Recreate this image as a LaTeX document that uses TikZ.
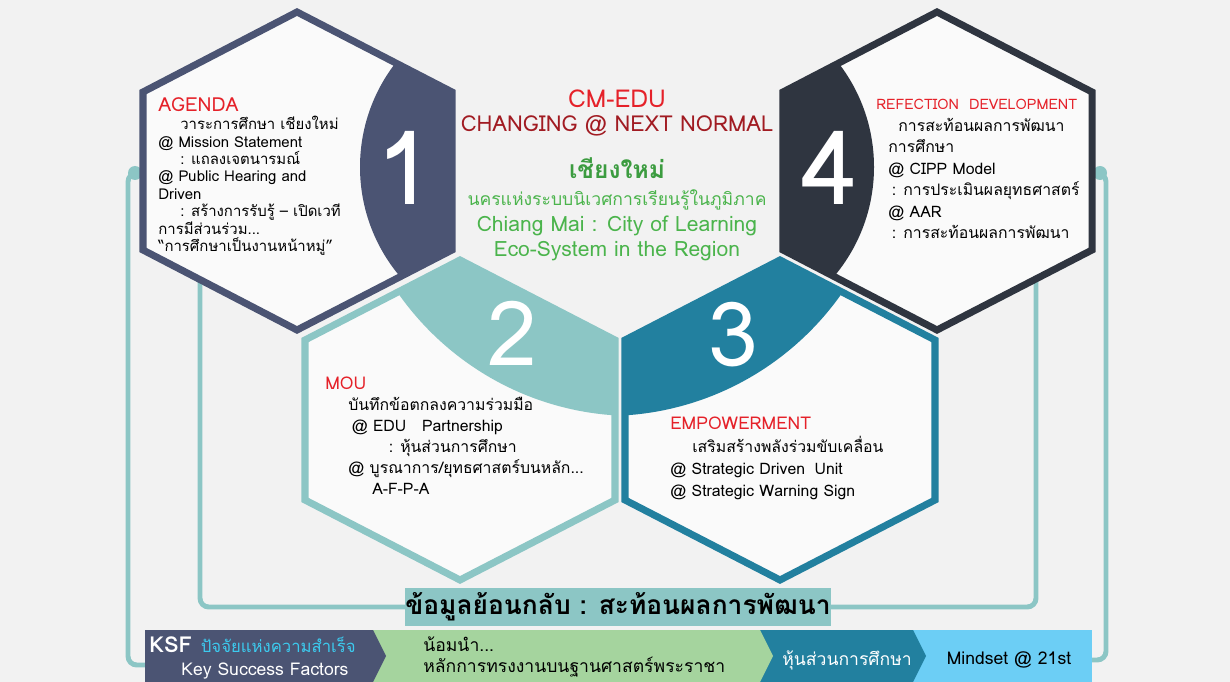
\documentclass[tikz,border=0pt]{standalone}
\usepackage{fontspec}
\setmainfont{Loma}[Script=Thai]
\usepackage{tikz}
\usetikzlibrary{positioning}
\definecolor{HXNavy}{HTML}{4B5473}
\definecolor{HXDark}{HTML}{2F3540}
\definecolor{HXTeal}{HTML}{8CC6C5}
\definecolor{HXBlue}{HTML}{22809F}
\definecolor{HXSky}{HTML}{6CCEF5}
\definecolor{HXGreen}{HTML}{A5D49E}
\definecolor{HXRed}{HTML}{E52129}
\definecolor{HXWine}{HTML}{A11B22}
\definecolor{HXLeaf}{HTML}{3C9C40}
\definecolor{HXLime}{HTML}{4BB44C}
\definecolor{HXCyan}{HTML}{3CCBEF}
\definecolor{HXBack}{HTML}{F2F2F2}
\definecolor{HXInner}{HTML}{FAFAFA}
\tikzset{
  hexline/.style={line width=4pt,line join=miter},
  hextitle/.style={anchor=base west,inner sep=0,text=HXRed,font=\fontsize{11}{13}\selectfont},
  hexbody/.style={anchor=north west,inner sep=0,align=left,font=\fontsize{8.5}{9.9}\selectfont},
  digit/.style={inner sep=0,text=white,font=\fontsize{58}{58}\selectfont},
  loopline/.style={HXTeal,line width=2.8pt,rounded corners=5pt},
  bartext/.style={inner sep=0,font=\fontsize{10}{11.5}\selectfont}
}
\begin{document}
\begin{tikzpicture}[x=0.02cm,y=-0.02cm]
\path[use as bounding box] (0,0) rectangle (1230,682);
\fill[HXBack] (0,0) rectangle (1230,682);
% feedback loop
\coordinate (dotL) at (135,173);
\coordinate (dotR) at (1100,173);
\coordinate (barL) at (146,665);
\coordinate (barR) at (1091,660);
\coordinate (footA) at (200,270);
\coordinate (footD) at (1036,270);
\node[fill=HXTeal,minimum width=8.32cm,minimum height=0.76cm,inner sep=0,
  font=\bfseries\fontsize{15}{16}\selectfont] (fb) at (618,607) {ข้อมูลย้อนกลับ : สะท้อนผลการพัฒนา};
\draw[loopline] (footA) |- (fb.west);
\draw[loopline] (footD) |- (fb.east);
\draw[loopline] (dotL) -- (128,173) |- (barL);
\draw[loopline] (dotR) -- (1106,173) |- (barR);
\fill[HXTeal] (dotL) circle (7);
\fill[HXTeal] (dotR) circle (7);
% bottom bar
\fill[HXSky] (145,630) rectangle (1092,682);
\fill[HXBlue] (145,630) -- (913,630) -- (926,656) -- (913,682) -- (145,682) -- cycle;
\fill[HXGreen] (145,630) -- (760,630) -- (773,656) -- (760,682) -- (145,682) -- cycle;
\fill[HXNavy] (145,630) -- (373,630) -- (386,656) -- (373,682) -- (145,682) -- cycle;
\node[bartext,anchor=west] (ksf) at (149,645) {\textcolor{white}{\bfseries\fontsize{12.5}{13}\selectfont KSF}\, \textcolor{HXCyan}{\fontsize{9.5}{10}\selectfont ปัจจัยแห่งความสำเร็จ}};
\node[bartext,text=white] (ksfen) at (265,671) {Key Success Factors};
\node[bartext,anchor=west,align=left] (noble) at (423,657) {น้อมนำ...\\หลักการทรงงานบนฐานศาสตร์พระราชา};
\node[bartext,text=white] (partner) at (847,660) {หุ้นส่วนการศึกษา};
\node[bartext] (mindset) at (1009,660) {Mindset @ 21st};
% hexagon 2
\fill[HXInner] (460,260) -- (615,340) -- (615,500) -- (460,580) -- (305,500) -- (305,340) -- cycle;
\begin{scope}
\clip (460,260) -- (615,340) -- (615,500) -- (460,580) -- (305,500) -- (305,340) -- cycle;
\fill[HXTeal] (634,128) circle (288);
\end{scope}
\draw[hexline,HXTeal] (460,260) -- (615,340) -- (615,500) -- (460,580) -- (305,500) -- (305,340) -- cycle;
\node[digit,font=\fontsize{51}{51}\selectfont] (two) at (512,333) {2};
% hexagon 3
\fill[HXInner] (780,260) -- (935,340) -- (935,500) -- (780,580) -- (625,500) -- (625,340) -- cycle;
\begin{scope}
\clip (780,260) -- (935,340) -- (935,500) -- (780,580) -- (625,500) -- (625,340) -- cycle;
\fill[HXBlue] (606,128) circle (288);
\end{scope}
\draw[hexline,HXBlue] (780,260) -- (935,340) -- (935,500) -- (780,580) -- (625,500) -- (625,340) -- cycle;
\node[digit,font=\fontsize{51}{51}\selectfont] (three) at (733,335) {3};
% hexagon 1
\fill[HXInner] (297,12) -- (452,92) -- (452,250) -- (297,330) -- (143,250) -- (143,92) -- cycle;
\begin{scope}
\clip (297,12) -- (452,92) -- (452,250) -- (297,330) -- (143,250) -- (143,92) -- cycle;
\fill[HXNavy] (530,167) circle (170);
\end{scope}
\draw[hexline,HXNavy] (297,12) -- (452,92) -- (452,250) -- (297,330) -- (143,250) -- (143,92) -- cycle;
\node[digit] (one) at (405,168) {1};
% hexagon 4
\fill[HXInner] (937,12) -- (1092,92) -- (1092,250) -- (937,330) -- (783,250) -- (783,92) -- cycle;
\begin{scope}
\clip (937,12) -- (1092,92) -- (1092,250) -- (937,330) -- (783,250) -- (783,92) -- cycle;
\fill[HXDark] (704,167) circle (170);
\end{scope}
\draw[hexline,HXDark] (937,12) -- (1092,92) -- (1092,250) -- (937,330) -- (783,250) -- (783,92) -- cycle;
\node[digit] (four) at (830,168) {4};
% texts of the hexagons
\node[hextitle] (agenda) at (158,112) {AGENDA};
\node[hexbody] (agendaTxt) at (158,116) {\hspace*{12.5pt}วาระการศึกษา เชียงใหม่\\
@ Mission Statement\\
\hspace*{12.5pt}: แถลงเจตนารมณ์\\
@ Public Hearing and\\
Driven\\
\hspace*{12.5pt}: สร้างการรับรู้ -- เปิดเวที\\
การมีส่วนร่วม...\\
“การศึกษาเป็นงานหน้าหมู่”};
\node[hextitle,font=\fontsize{8.2}{10}\selectfont] (refect) at (876,110) {REFECTION\hspace{0.7em}DEVELOPMENT};
\node[hexbody,font=\fontsize{9}{12.2}\selectfont] (refectTxt) at (888,118) {\hspace*{5.7pt}การสะท้อนผลการพัฒนา\\
การศึกษา\\
@ CIPP Model\\
\hspace*{2pt}: การประเมินผลยุทธศาสตร์\\
@ AAR\\
\hspace*{2pt}: การสะท้อนผลการพัฒนา};
\node[hextitle,font=\fontsize{10}{11}\selectfont] (mou) at (325,389) {MOU};
\node[hexbody,font=\fontsize{9}{12}\selectfont] (mouTxt) at (348,397) {บันทึกข้อตกลงความร่วมมือ\\
\hspace*{2pt}@ EDU\hspace{1em}Partnership\\
\hspace*{23pt}: หุ้นส่วนการศึกษา\\
@ บูรณาการ/ยุทธศาสตร์บนหลัก...\\
\hspace*{13.6pt}A-F-P-A};
\node[hextitle,font=\fontsize{10}{11}\selectfont] (empower) at (670,429) {EMPOWERMENT};
\node[hexbody,font=\fontsize{9}{12.5}\selectfont] (empowerTxt) at (670,436) {\hspace*{12.5pt}เสริมสร้างพลังร่วมขับเคลื่อน\\
@ Strategic Driven\hspace{0.6em}Unit\\
@ Strategic Warning Sign};
% centre
\node[inner sep=0,text=HXRed,font=\fontsize{14}{15}\selectfont] (cmedu) at (617,99) {CM-EDU};
\node[inner sep=0,text=HXWine,font=\fontsize{12.5}{14}\selectfont] (changing) at (617,126) {CHANGING @ NEXT NORMAL};
\node[inner sep=0,text=HXLeaf,font=\bfseries\fontsize{14}{15}\selectfont] (cmname) at (617,168) {เชียงใหม่};
\node[inner sep=0,text=HXLime,font=\fontsize{10}{11}\selectfont] (cmcity) at (617,200) {นครแห่งระบบนิเวศการเรียนรู้ในภูมิภาค};
\node[inner sep=0,text=HXLime,font=\fontsize{12}{13}\selectfont] (cmlearn) at (617,226) {Chiang Mai : City of Learning};
\node[inner sep=0,text=HXLime,font=\fontsize{12}{13}\selectfont] (cmeco) at (617,251) {Eco-System in the Region};
\end{tikzpicture}
\end{document}
